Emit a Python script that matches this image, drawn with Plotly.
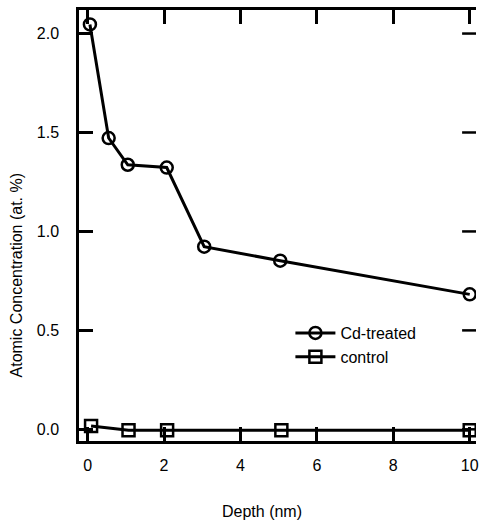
import plotly.graph_objects as go

# Data
cd_depth = [0.06, 0.55, 1.05, 2.07, 3.05, 5.04, 10.0]
cd_conc = [2.046, 1.472, 1.337, 1.323, 0.923, 0.852, 0.682]
ctrl_depth = [0.09, 1.07, 2.08, 5.07, 10.0]
ctrl_conc = [0.017, -0.005, -0.005, -0.005, -0.005]

x_ticks = [0, 2, 4, 6, 8, 10]
y_ticks = [0.0, 0.5, 1.0, 1.5, 2.0]

FONT = "Liberation Sans, Arial, sans-serif"
X_RANGE = [-0.226, 10.164]
Y_RANGE = [-0.059, 2.119]

fig = go.Figure()
fig.add_trace(go.Scatter(
    x=cd_depth, y=cd_conc, mode="lines+markers", name="Cd-treated",
    line=dict(color="black", width=3),
    marker=dict(symbol="circle-open", size=12, color="black", line=dict(width=2.5)),
))
fig.add_trace(go.Scatter(
    x=ctrl_depth, y=ctrl_conc, mode="lines+markers", name="control",
    line=dict(color="black", width=3),
    marker=dict(symbol="square-open", size=12, color="black", line=dict(width=2.5)),
))

L, R, T, B = 79, 0, 10, 80
W, H = 479, 521
pw, ph = W - L - R, H - T - B
TICKLEN = 14

def px_x(px):
    return (px - L) / pw

def px_y(py):
    return (H - B - py) / ph

# right-hand inside ticks (axis decoration, placed at the y tick values)
shapes = [
    dict(type="line", xref="paper", yref="y", x0=1.0, x1=1.0 - TICKLEN / pw,
         y0=v, y1=v, line=dict(color="black", width=2.5))
    for v in y_ticks
]

fig.update_layout(
    width=W, height=H,
    margin=dict(l=L, r=R, t=T, b=B),
    plot_bgcolor="white", paper_bgcolor="white",
    font=dict(family=FONT, size=16, color="black"),
    showlegend=True,
    legend=dict(x=px_x(292), y=px_y(345), xanchor="left", yanchor="middle",
                bgcolor="rgba(0,0,0,0)", font=dict(size=16), tracegroupgap=0,
                itemwidth=40),
    xaxis=dict(range=X_RANGE, tickvals=x_ticks, ticktext=[str(v) for v in x_ticks],
               showline=True, linecolor="black", linewidth=2.5, mirror="ticks",
               ticks="inside", ticklen=TICKLEN, tickwidth=2.5, tickcolor="black",
               showgrid=False, zeroline=False, ticklabelstandoff=8,
               ticklabeloverflow="allow"),
    yaxis=dict(range=Y_RANGE, tickvals=y_ticks, ticktext=[f"{v:.1f}" for v in y_ticks],
               showline=True, linecolor="black", linewidth=2.5, mirror=False,
               ticks="inside", ticklen=TICKLEN, tickwidth=2.5, tickcolor="black",
               showgrid=False, zeroline=False, ticklabelstandoff=14),
    shapes=shapes,
    annotations=[
        dict(text="Depth (nm)", x=px_x(263), y=px_y(511), xref="paper", yref="paper",
             xanchor="center", yanchor="middle", showarrow=False, font=dict(size=16)),
        dict(text="Atomic Concentration (at. %)", x=px_x(16), y=px_y(275), xref="paper",
             yref="paper", xanchor="center", yanchor="middle", showarrow=False,
             textangle=-90, font=dict(size=16)),
    ],
)

fig.write_html(
    "out.html",
    config={"displayModeBar": False},
    post_script="document.documentElement.style.overflow='hidden';"
                "document.body.style.overflow='hidden';document.body.style.margin='0';",
)
